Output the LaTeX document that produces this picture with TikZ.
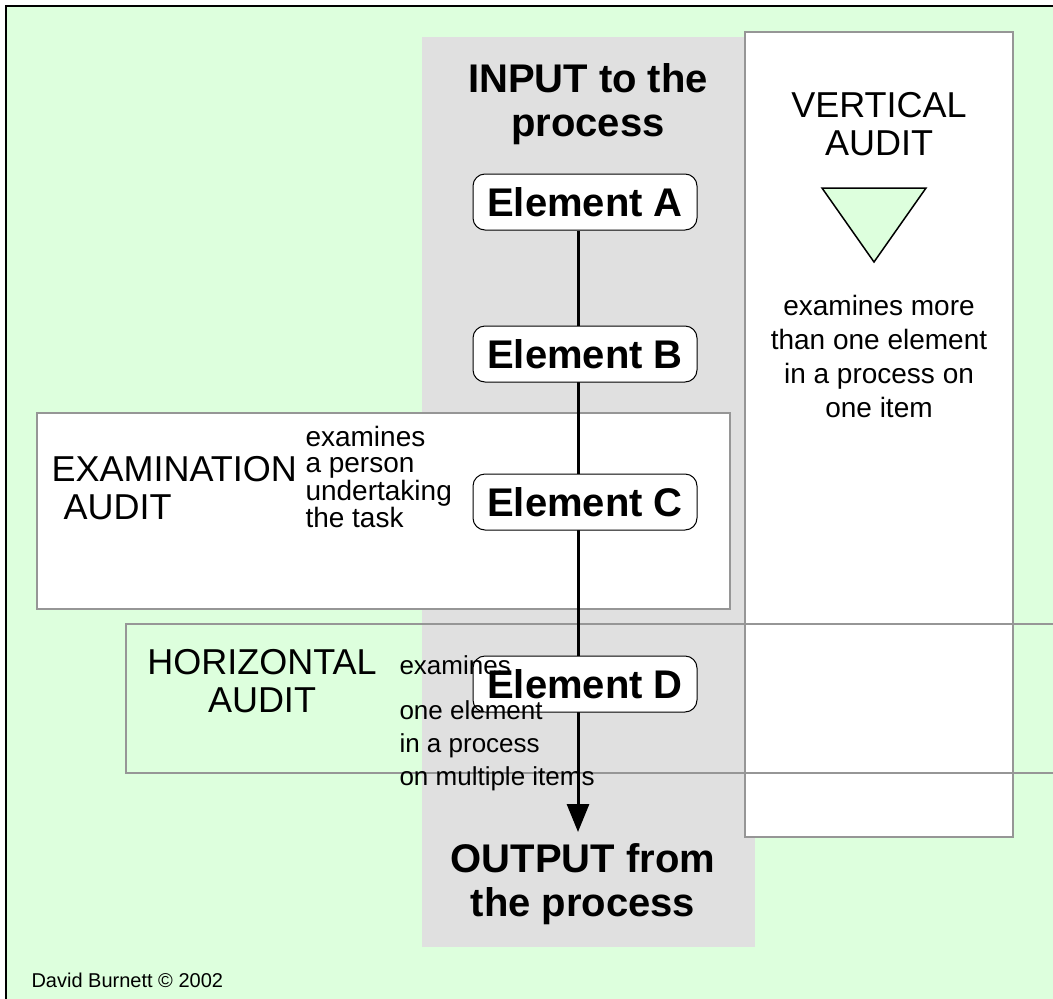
\documentclass[tikz,border=0pt]{standalone}
\usepackage{fontspec}
\setmainfont{Liberation Sans}
\usetikzlibrary{positioning,arrows.meta}
\definecolor{paleGreen}{RGB}{221,255,221}
\definecolor{colGrey}{RGB}{224,224,224}
\definecolor{boxEdge}{RGB}{150,150,150}
\newcommand{\fsz}[2]{\fontsize{#1}{#2}\selectfont}
\begin{document}
\begin{tikzpicture}[x=1pt, y=-1pt,
    element/.style={draw, rounded corners=12pt, fill=white, line width=1pt,
        minimum width=224pt, minimum height=56pt, inner sep=0pt, font=\bfseries\fsz{40}{45}},
    heading/.style={font=\bfseries\fsz{40}{44}, align=center},
    audit/.style={font=\fsz{36}{38}},
    note/.style={font=\fsz{28}{26}, align=left}]
    \useasboundingbox (0,0) rectangle (1053,999);
    \clip (0,0) rectangle (1053,999);

    % 背景和框
    \fill[white] (0,0) rectangle (1053,999);
    \draw[line width=2pt, fill=paleGreen] (6,6) rectangle (1080,1020);
    \fill[colGrey] (422,37) rectangle (755,947);
    \draw[boxEdge, line width=1.2pt, fill=white] (745,32) rectangle (1013,837);
    \draw[boxEdge, line width=1.5pt, fill=white] (37,413) rectangle (730,609);
    \draw[boxEdge, line width=2pt] (126,624) rectangle (1080,773);

    % 过程
    \node[heading] (input) at (588,104) {INPUT to the\\process};
    \node[element] (A) at (585,202) {Element A};
    \coordinate (tip) at (578,832);
    \draw[line width=3pt, -{Triangle[width=22pt,length=28pt]}] (A.south -| tip) -- (tip);
    \node[element] (B) at (585,354) {Element B};
    \node[element] (C) at (585,502) {Element C};
    \node[element] (D) at (585,684) {Element D};
    \node[heading] (output) at (583,884) {OUTPUT from\\the process};

    % 纵向审核
    \node[audit, align=center] (vert) at (879,124) {VERTICAL\\AUDIT};
    \draw[line width=1.5pt, fill=paleGreen] (822,188) -- (926,188) -- (874,262) -- cycle;
    \node[font=\fsz{28}{34}, align=center] (vnote) at (879,356)
        {examines more\\than one element\\in a process on\\one item};

    % 检查审核
    \node[audit, align=left, anchor=west] (exam) at (48,488) {EXAMINATION\\\hspace*{12pt}AUDIT};
    \node[note, anchor=west] (enote) at (302,477) {examines\\a person\\undertaking\\the task};

    % 横向审核
    \node[audit, align=center] (horiz) at (262,681) {HORIZONTAL\\AUDIT};
    \node[note, anchor=north west, font=\fsz{26}{33}] (hnote) at (396,652)
        {examines\\[12pt]one element\\in a process\\on multiple items};

    \node[font=\fsz{20}{22}, anchor=west] (credit) at (28,980) {David Burnett \textcopyright{} 2002};
\end{tikzpicture}
\end{document}
